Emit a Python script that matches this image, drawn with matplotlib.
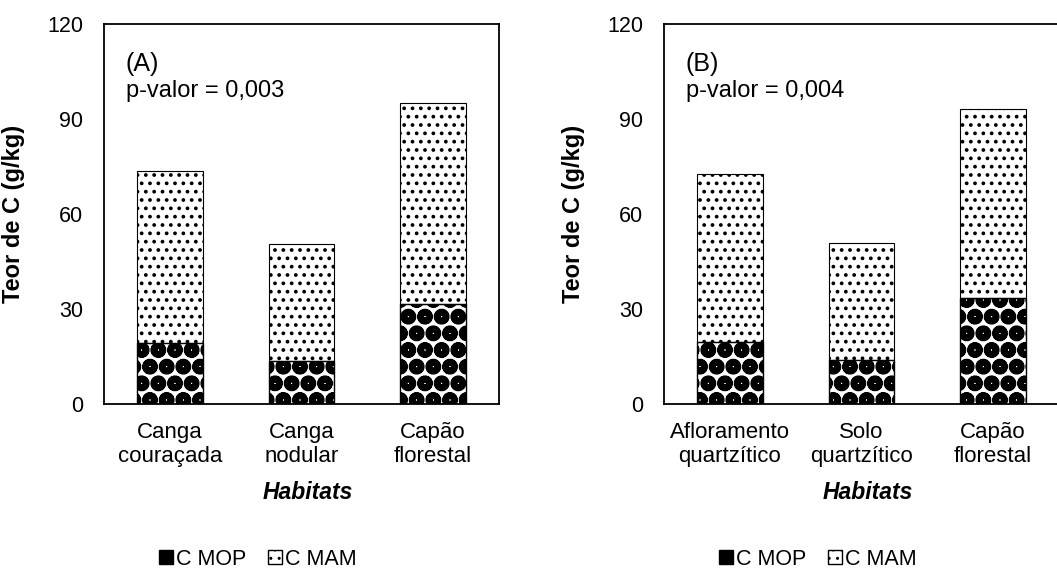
import numpy as np
import matplotlib
matplotlib.use("Agg")
import matplotlib.pyplot as plt
import matplotlib.patches as mpatches

plt.rcParams["font.family"] = ["Liberation Sans", "DejaVu Sans"]

# ── data (g/kg) ──────────────────────────────────────────────────────────────
habitats_a = ["Canga\ncouraçada", "Canga\nnodular", "Capão\nflorestal"]
mop_a = [19.2, 13.6, 31.5]
mam_a = [54.5, 37.0, 63.6]

habitats_b = ["Afloramento\nquartzítico", "Solo\nquartzítico", "Capão\nflorestal"]
mop_b = [19.5, 13.9, 33.6]
mam_b = [53.1, 36.9, 59.5]

panel_labels = ["(A)", "(B)"]
p_values = ["p-valor = 0,003", "p-valor = 0,004"]
y_ticks = [0, 30, 60, 90, 120]

fig = plt.figure(figsize=(10.57, 5.73), dpi=100)
ax_a = fig.add_axes([0.0984, 0.2949, 0.3737, 0.6632])
ax_b = fig.add_axes([0.6282, 0.2949, 0.3737, 0.6632])


def draw_panel(ax, cats, mop, mam, tag, ptxt):
    x = np.arange(len(cats))
    with plt.rc_context({"hatch.linewidth": 3.0}):
        ax.bar(x, mop, width=0.5, color="white", edgecolor="black",
               hatch="Oo", linewidth=0)
    with plt.rc_context({"hatch.linewidth": 1.5}):
        ax.bar(x, mam, bottom=mop, width=0.5, color="white",
               edgecolor="black", hatch="..", linewidth=0)
    # outlines
    ax.bar(x, mop, width=0.5, fill=False, edgecolor="black", linewidth=1.0)
    ax.bar(x, mam, bottom=mop, width=0.5, fill=False, edgecolor="black",
           linewidth=0.8)

    ax.set_xlim(-0.5, 2.5)
    ax.set_ylim(0, 120)
    ax.set_yticks(y_ticks)
    ax.set_xticks(x)
    ax.set_xticklabels(cats, fontsize=16, linespacing=1.2)
    ax.tick_params(axis="both", length=0)
    ax.tick_params(axis="y", pad=15, labelsize=15.5)
    ax.tick_params(axis="x", pad=13)
    for s in ax.spines.values():
        s.set_linewidth(1.3)

    ax.set_ylabel("Teor de C (g/kg)", fontsize=17, fontweight="bold")
    ax.yaxis.set_label_coords(-0.2, 0.5)
    ax.set_xlabel("Habitats", fontsize=16.5, fontweight="bold", style="italic",
                  va="center")
    ax.xaxis.set_label_coords(0.517, -0.234)

    ax.text(0.055, 0.895, tag, transform=ax.transAxes, fontsize=18,
            va="center", ha="left")
    ax.text(0.055, 0.825, ptxt, transform=ax.transAxes, fontsize=17,
            va="center", ha="left")

    with plt.rc_context({"hatch.linewidth": 1.0}):
        h_mop = mpatches.Patch(facecolor="black", edgecolor="black",
                               linewidth=1.0, label="C MOP")
        h_mam = mpatches.Patch(facecolor="white", edgecolor="black",
                               hatch="..", linewidth=1.0, label="C MAM")
    ax.legend(handles=[h_mop, h_mam], loc="center",
              bbox_to_anchor=(0.39, -0.408), ncol=2, frameon=False,
              fontsize=15.5, handlelength=0.65, handleheight=0.65,
              handletextpad=0.15, columnspacing=1.0, borderaxespad=0)


draw_panel(ax_a, habitats_a, mop_a, mam_a, panel_labels[0], p_values[0])
draw_panel(ax_b, habitats_b, mop_b, mam_b, panel_labels[1], p_values[1])

fig.savefig("out.png", dpi=100, facecolor="white")
